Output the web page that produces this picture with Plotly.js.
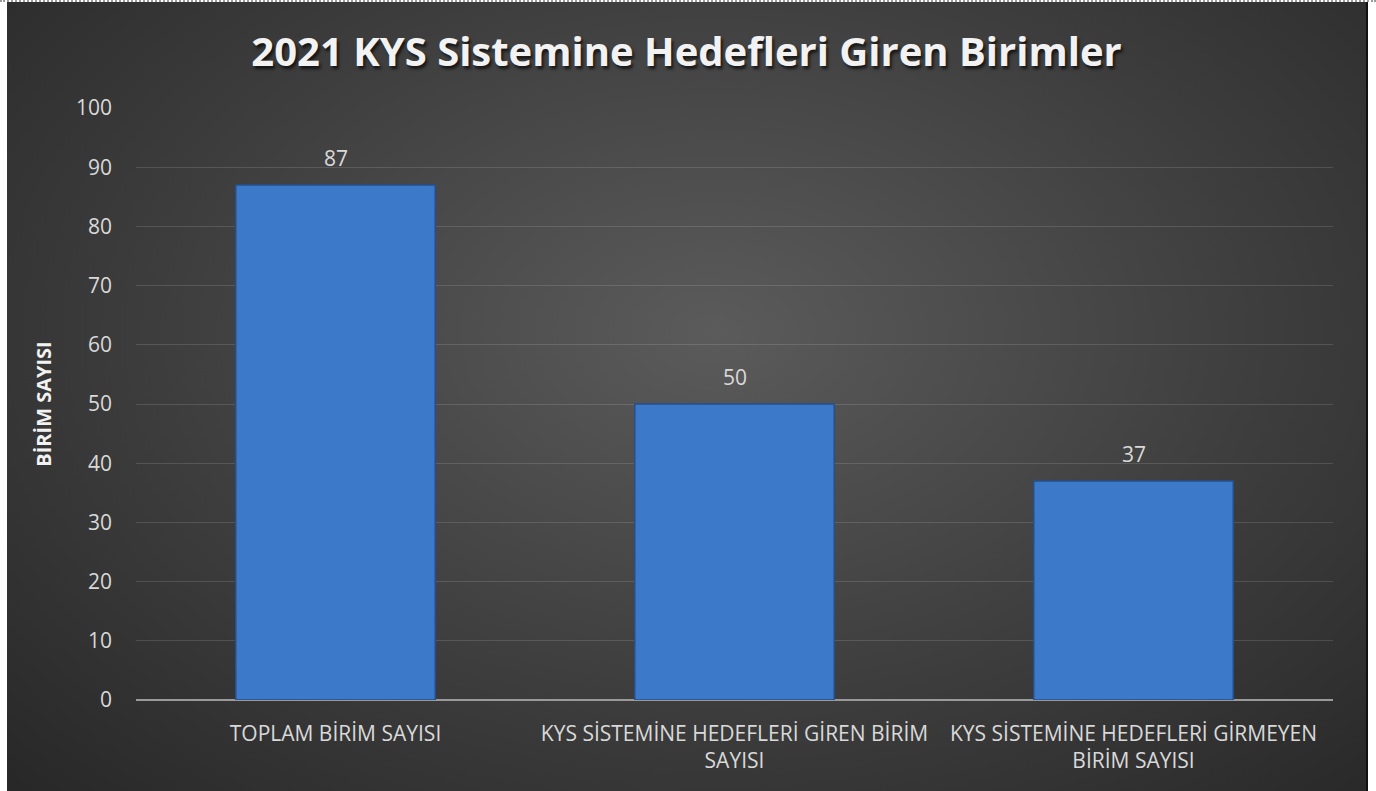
<!DOCTYPE html>
<html>
<head>
<meta charset="utf-8">
<script src="https://cdn.plot.ly/plotly-3.0.1.min.js"></script>
<style>
  html, body { margin: 0; padding: 0; background: #ffffff; width: 1376px; height: 791px; overflow: hidden; }
  #frame {
    position: absolute; left: 7px; top: 2px; width: 1359px; height: 789px;
    background: radial-gradient(ellipse 75% 85% at 52% 42%, #5b5b5b 0%, #3d3d3d 55%, #262626 100%);
    border-right: 2px solid #111;
  }
  #topline { position: absolute; left: 0; top: 0; width: 1376px; height: 0; border-top: 2px dotted #9a9a9a; }
  #chart { position: absolute; left: 0; top: 0; width: 1359px; height: 789px; }
</style>
</head>
<body>
<div id="topline"></div>
<div id="frame"><div id="chart"></div></div>
<script>
const categories = [
  "TOPLAM BİRİM SAYISI",
  "KYS SİSTEMİNE HEDEFLERİ GİREN BİRİM<br>SAYISI",
  "KYS SİSTEMİNE HEDEFLERİ GİRMEYEN<br>BİRİM SAYISI"
];
const values = [87, 50, 37];
const yTicks = [0, 10, 20, 30, 40, 50, 60, 70, 80, 90, 100];
const chartTitle = "2021 KYS Sistemine Hedefleri Giren Birimler";
const yTitle = "BİRİM SAYISI";

const font = "Open Sans, DejaVu Sans, sans-serif";

const trace = {
  type: "bar",
  x: categories,
  y: values,
  marker: {
    color: "#3c79c9",
    line: { color: "#244f8a", width: 1.5 }
  },
  hoverinfo: "x+y"
};

const labelAnnotations = categories.map((c, i) => ({
  x: c, y: values[i], xref: "x", yref: "y",
  text: String(values[i]),
  showarrow: false,
  yanchor: "bottom",
  yshift: 11,
  font: { family: font, size: 21, color: "#d9d9d9" }
}));

const layout = {
  width: 1359,
  height: 789,
  paper_bgcolor: "rgba(0,0,0,0)",
  plot_bgcolor: "rgba(0,0,0,0)",
  margin: { l: 129, r: 33, t: 106, b: 91 },
  bargap: 0.5,
  showlegend: false,
  annotations: labelAnnotations,
  title: {
    text: "<b>" + chartTitle + "</b>",
    x: 0.5, xanchor: "center",
    y: 0.936, yanchor: "middle",
    font: { family: font, size: 40, color: "#f2f2f2", shadow: "2px 3px 3px rgba(0,0,0,0.65)" }
  },
  xaxis: {
    type: "category",
    showgrid: false,
    showline: false,
    zeroline: false,
    ticks: "",
    ticklabelstandoff: 19,
    tickfont: { family: font, size: 21, color: "#d9d9d9" }
  },
  yaxis: {
    range: [0, 100],
    tickvals: yTicks,
    ticktext: yTicks.map(String),
    showgrid: true,
    gridcolor: "rgba(255,255,255,0.13)",
    gridwidth: 1,
    zeroline: true,
    zerolinecolor: "#9a9a9a",
    zerolinewidth: 2,
    showline: false,
    ticks: "",
    ticklabelstandoff: 23,
    tickfont: { family: font, size: 21, color: "#d9d9d9" },
    title: {
      text: "<b>" + yTitle + "</b>",
      standoff: 18,
      font: { family: font, size: 20, color: "#f2f2f2" }
    }
  }
};

Plotly.newPlot("chart", [trace], layout, { displayModeBar: false, staticPlot: true });
</script>
</body>
</html>
